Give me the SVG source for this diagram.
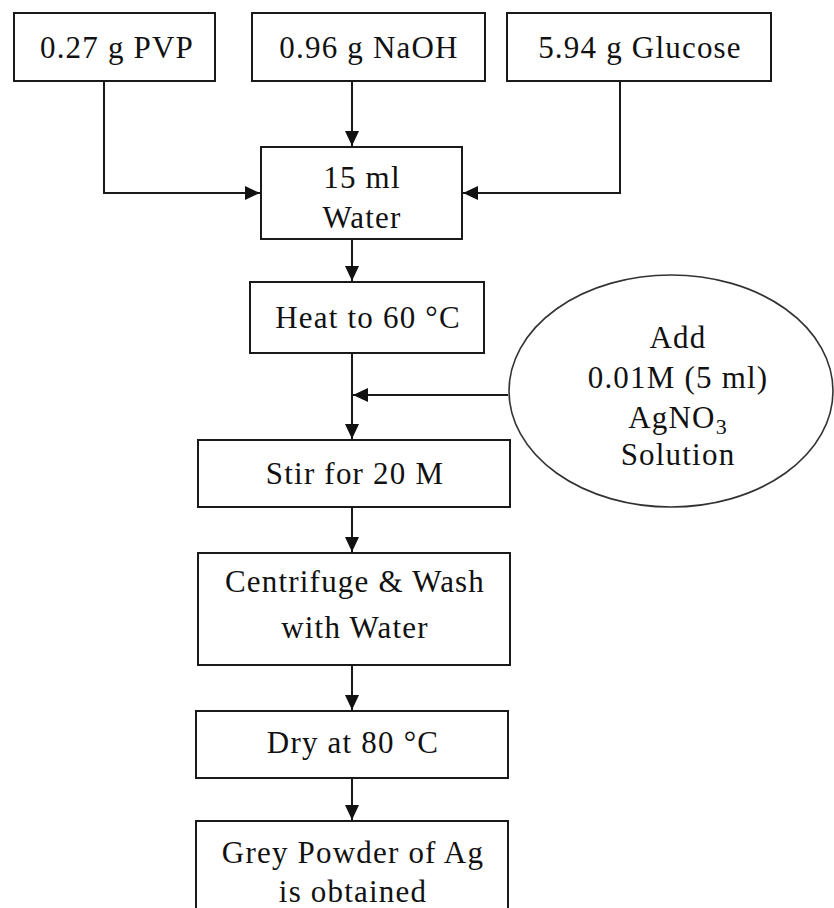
<svg xmlns="http://www.w3.org/2000/svg" width="834" height="908" viewBox="0 0 834 908">
<style>
.box{fill:#ffffff;stroke:#1a1a1a;stroke-width:2}
.ell{fill:#ffffff;stroke:#333333;stroke-width:1.6}
.t{font-family:"Liberation Serif","Times New Roman",serif;font-size:31px;letter-spacing:1.2px;fill:#111111;text-anchor:middle}
.c{fill:none;stroke:#1a1a1a;stroke-width:2}
</style>
<defs>
<marker id="ah" viewBox="0 0 15 14" refX="15" refY="7" markerWidth="15" markerHeight="14" markerUnits="userSpaceOnUse" orient="auto">
<path d="M0,0 L15,7 L0,14 z" fill="#111111"/>
</marker>
</defs>
<rect width="834" height="908" fill="#ffffff"/>
<g id="connectors">
<path class="c" d="M104,81 V193 H260" marker-end="url(#ah)"/>
<path class="c" d="M352,81 V146" marker-end="url(#ah)"/>
<path class="c" d="M620,81 V193 H463" marker-end="url(#ah)"/>
<path class="c" d="M352,239 V281" marker-end="url(#ah)"/>
<path class="c" d="M352,353 V439" marker-end="url(#ah)"/>
<path class="c" d="M508,395 H353" marker-end="url(#ah)"/>
<path class="c" d="M352,507 V552" marker-end="url(#ah)"/>
<path class="c" d="M352,665 V710" marker-end="url(#ah)"/>
<path class="c" d="M352,778 V820" marker-end="url(#ah)"/>
</g>
<g id="pvp">
<rect class="box" x="14" y="13" width="201" height="68"/>
<text class="t" x="117" y="58">0.27 g PVP</text>
</g>
<g id="naoh">
<rect class="box" x="252" y="13" width="233" height="68"/>
<text class="t" x="369" y="58">0.96 g NaOH</text>
</g>
<g id="glucose">
<rect class="box" x="507" y="13" width="264" height="68"/>
<text class="t" x="640" y="58">5.94 g Glucose</text>
</g>
<g id="water">
<rect class="box" x="261" y="147" width="201" height="92"/>
<text class="t" x="362" y="188">15 ml</text>
<text class="t" x="362" y="228">Water</text>
</g>
<g id="heat">
<rect class="box" x="250" y="282" width="234" height="71"/>
<text class="t" x="368" y="328">Heat to 60 °C</text>
</g>
<g id="agno3">
<ellipse class="ell" cx="671" cy="391" rx="162" ry="116"/>
<text class="t" x="678" y="348">Add</text>
<text class="t" x="678" y="388">0.01M (5 ml)</text>
<text class="t" x="678" y="428">AgNO<tspan font-size="22" dy="6">3</tspan></text>
<text class="t" x="678" y="465">Solution</text>
</g>
<g id="stir">
<rect class="box" x="198" y="440" width="312" height="67"/>
<text class="t" x="355" y="484">Stir for 20 M</text>
</g>
<g id="centrifuge">
<rect class="box" x="198" y="553" width="312" height="112"/>
<text class="t" x="355" y="592">Centrifuge &amp; Wash</text>
<text class="t" x="355" y="638">with Water</text>
</g>
<g id="dry">
<rect class="box" x="196" y="711" width="312" height="67"/>
<text class="t" x="353" y="753">Dry at 80 °C</text>
</g>
<g id="grey">
<rect class="box" x="196" y="821" width="312" height="100"/>
<text class="t" x="353" y="863">Grey Powder of Ag</text>
<text class="t" x="353" y="902">is obtained</text>
</g>
</svg>
